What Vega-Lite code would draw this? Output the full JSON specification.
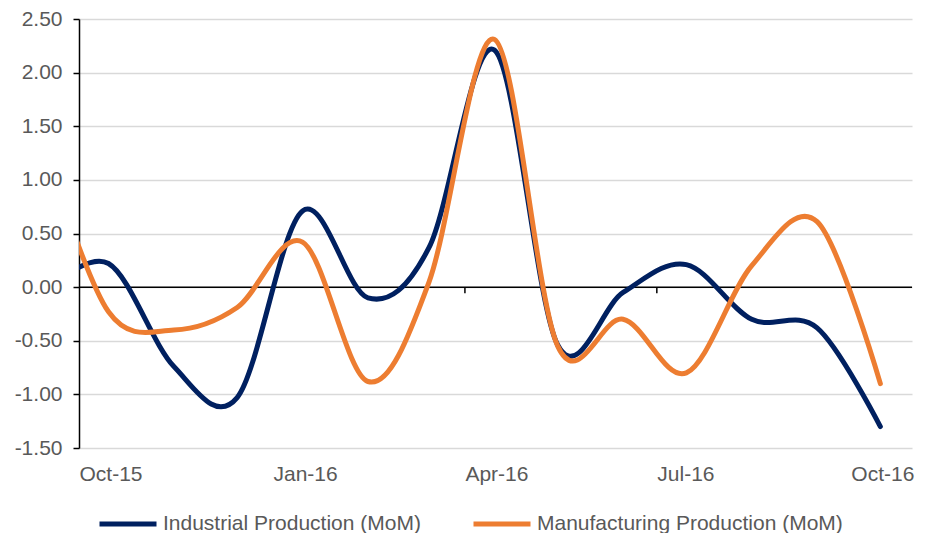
{
  "$schema": "https://vega.github.io/schema/vega-lite/v6.json",
  "width": 833,
  "height": 429,
  "autosize": {"type": "none"},
  "padding": {"left": 79, "top": 19, "right": 16, "bottom": 85},
  "background": "white",
  "config": {"view": {"stroke": null}, "font": "Liberation Sans"},
  "datasets": {
    "series": [
      {"date": "2015-09-15", "series": "Industrial Production (MoM)", "value": -0.05},
      {"date": "2015-10-15", "series": "Industrial Production (MoM)", "value": 0.22},
      {"date": "2015-11-15", "series": "Industrial Production (MoM)", "value": -0.74},
      {"date": "2015-12-15", "series": "Industrial Production (MoM)", "value": -1.03},
      {"date": "2016-01-15", "series": "Industrial Production (MoM)", "value": 0.71},
      {"date": "2016-02-15", "series": "Industrial Production (MoM)", "value": -0.10},
      {"date": "2016-03-15", "series": "Industrial Production (MoM)", "value": 0.37},
      {"date": "2016-04-15", "series": "Industrial Production (MoM)", "value": 2.21},
      {"date": "2016-05-15", "series": "Industrial Production (MoM)", "value": -0.54},
      {"date": "2016-06-15", "series": "Industrial Production (MoM)", "value": -0.05},
      {"date": "2016-07-15", "series": "Industrial Production (MoM)", "value": 0.21},
      {"date": "2016-08-15", "series": "Industrial Production (MoM)", "value": -0.30},
      {"date": "2016-09-15", "series": "Industrial Production (MoM)", "value": -0.38},
      {"date": "2016-10-15", "series": "Industrial Production (MoM)", "value": -1.30},
      {"date": "2015-09-15", "series": "Manufacturing Production (MoM)", "value": 1.28},
      {"date": "2015-10-15", "series": "Manufacturing Production (MoM)", "value": -0.23},
      {"date": "2015-11-15", "series": "Manufacturing Production (MoM)", "value": -0.40},
      {"date": "2015-12-15", "series": "Manufacturing Production (MoM)", "value": -0.19},
      {"date": "2016-01-15", "series": "Manufacturing Production (MoM)", "value": 0.42},
      {"date": "2016-02-15", "series": "Manufacturing Production (MoM)", "value": -0.88},
      {"date": "2016-03-15", "series": "Manufacturing Production (MoM)", "value": 0.05},
      {"date": "2016-04-15", "series": "Manufacturing Production (MoM)", "value": 2.31},
      {"date": "2016-05-15", "series": "Manufacturing Production (MoM)", "value": -0.55},
      {"date": "2016-06-15", "series": "Manufacturing Production (MoM)", "value": -0.30},
      {"date": "2016-07-15", "series": "Manufacturing Production (MoM)", "value": -0.80},
      {"date": "2016-08-15", "series": "Manufacturing Production (MoM)", "value": 0.20},
      {"date": "2016-09-15", "series": "Manufacturing Production (MoM)", "value": 0.61},
      {"date": "2016-10-15", "series": "Manufacturing Production (MoM)", "value": -0.90}
    ],
    "ticks": [
      {"date": "2016-01-01"},
      {"date": "2016-04-01"},
      {"date": "2016-07-01"},
      {"date": "2016-10-01"}
    ]
  },
  "layer": [
    {
      "data": {"name": "series"},
      "mark": {"type": "line", "interpolate": "cardinal", "strokeWidth": 5, "clip": true, "opacity": 0},
      "encoding": {
        "x": {
          "field": "date", "type": "temporal",
          "scale": {"type": "utc", "domain": [{"year": 2015, "month": 10, "date": 1, "utc": true}, {"year": 2016, "month": 10, "date": 30, "utc": true}]},
          "axis": {
            "title": null,
            "values": [
              {"year": 2015, "month": 10, "date": 1, "utc": true},
              {"year": 2016, "month": 1, "date": 1, "utc": true},
              {"year": 2016, "month": 4, "date": 1, "utc": true},
              {"year": 2016, "month": 7, "date": 1, "utc": true},
              {"year": 2016, "month": 10, "date": 1, "utc": true}
            ],
            "labelExpr": "utcFormat(datum.value, '%b-%y')",
            "labelAlign": "left",
            "labelPadding": 15,
            "labelFlush": false,
            "labelOverlap": false,
            "ticks": false,
            "domain": false,
            "grid": false,
            "labelFont": "Liberation Sans",
            "labelFontSize": 21,
            "labelColor": "#595959"
          }
        },
        "y": {
          "field": "value", "type": "quantitative",
          "scale": {"domain": [-1.5, 2.5], "nice": false, "zero": false},
          "axis": {
            "title": null,
            "values": [-1.5, -1, -0.5, 0, 0.5, 1, 1.5, 2, 2.5],
            "labelExpr": "replace(format(datum.value, '.2f'), '\u2212', '-')",
            "domainColor": "black",
            "domainWidth": 1.5,
            "tickColor": "black",
            "tickSize": 6,
            "tickWidth": 1.5,
            "labelPadding": 11,
            "labelFont": "Liberation Sans",
            "labelFontSize": 21,
            "labelColor": "#595959",
            "grid": true,
            "gridColor": "#d9d9d9",
            "gridWidth": 1.5
          }
        },
        "color": {
          "field": "series", "type": "nominal",
          "scale": {"domain": ["Industrial Production (MoM)", "Manufacturing Production (MoM)"], "range": ["#002060", "#ED7D31"]},
          "legend": {
            "orient": "none",
            "legendX": 18,
            "legendY": 474,
            "direction": "horizontal",
            "title": null,
            "symbolType": "stroke",
            "symbolSize": 3249,
            "symbolStrokeWidth": 5,
            "symbolOpacity": 1,
            "labelFont": "Liberation Sans",
            "labelFontSize": 21,
            "labelColor": "#595959",
            "labelOffset": 4,
            "columnPadding": 42,
            "labelLimit": 400
          }
        }
      }
    },
    {
      "data": {"values": [{"zero": 0}]},
      "mark": {"type": "rule", "color": "black", "strokeWidth": 1.5},
      "encoding": {
        "y": {"field": "zero", "type": "quantitative"}
      }
    },
    {
      "data": {"name": "ticks"},
      "mark": {"type": "rule", "color": "black", "strokeWidth": 1.5},
      "encoding": {
        "x": {"field": "date", "type": "temporal"},
        "y": {"datum": 0, "type": "quantitative"},
        "y2": {"datum": -0.056}
      }
    },
    {
      "data": {"name": "series"},
      "mark": {"type": "line", "interpolate": "cardinal", "strokeWidth": 5, "strokeCap": "round", "strokeJoin": "round", "clip": true},
      "encoding": {
        "x": {"field": "date", "type": "temporal"},
        "y": {"field": "value", "type": "quantitative"},
        "color": {"field": "series", "type": "nominal"}
      }
    }
  ]
}
